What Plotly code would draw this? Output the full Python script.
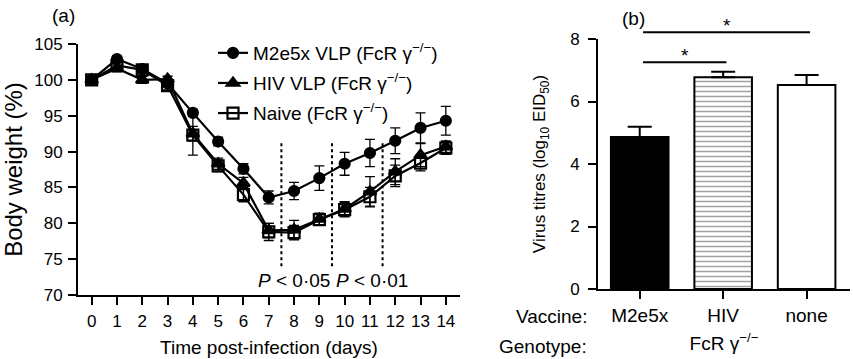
import plotly.graph_objects as go

FONT = "Liberation Sans, Arial, sans-serif"

# ---------------- data: panel (a) ----------------
days = list(range(15))
day_ticks = [str(d) for d in days]
m2e5x = [100, 102.9, 101.5, 99.5, 95.4, 91.4, 87.6, 83.6, 84.5, 86.3, 88.3, 89.8, 91.5, 93.3, 94.3]
m2e5x_err = [0, 0.4, 0.4, 0.4, 0.5, 0.6, 0.7, 0.9, 1.2, 1.7, 1.6, 1.9, 1.8, 2.1, 2.0]
hiv = [100, 101.6, 100.0, 100.1, 92.5, 88.3, 85.6, 79.0, 79.1, 80.6, 82.0, 84.4, 87.2, 89.5, 90.7]
hiv_err = [0, 0.5, 0.5, 0.4, 1.0, 0.8, 0.8, 1.0, 1.3, 0.8, 1.0, 2.1, 1.8, 1.6, 0.8]
naive = [100, 102.0, 101.4, 99.2, 92.3, 88.0, 84.0, 78.8, 78.7, 80.5, 81.9, 83.7, 86.6, 88.4, 90.5]
naive_err = [0, 0.4, 0.5, 0.6, 2.8, 0.8, 1.0, 1.2, 1.0, 0.8, 1.0, 1.3, 1.5, 1.1, 0.9]
series_names = ["M2e5x VLP (FcR γ<sup>−/−</sup>)", "HIV VLP (FcR γ<sup>−/−</sup>)", "Naive (FcR γ<sup>−/−</sup>)"]
bw_ticks = [70, 75, 80, 85, 90, 95, 100, 105]
sig_days = [7.5, 9.5, 11.5]
sig_range = [74.0, 91.4]
p_labels = ["<i>P</i> < 0·05", "<i>P</i> < 0·01"]
p_label_x = [8.0, 11.1]
p_label_y = 72.0

# ---------------- data: panel (b) ----------------
vaccines = ["M2e5x", "HIV", "none"]
titres = [4.86, 6.78, 6.53]
titres_err = [0.33, 0.17, 0.32]
titre_ticks = [0, 2, 4, 6, 8]
comparisons = [(0, 1, 7.26), (0, 2, 8.22)]  # (from, to, level)

fig = go.Figure()

sym = ["circle", "triangle-up", "square-open"]
sizes = [10, 11, 11]
for i, (name, ys, es, s, sz) in enumerate(zip(series_names, [m2e5x, hiv, naive],
                                              [m2e5x_err, hiv_err, naive_err], sym, sizes)):
    fig.add_trace(go.Scatter(
        x=days, y=ys, name=name, mode="lines+markers", legendgroup=f"g{i}",
        line=dict(color="black", width=2.2),
        marker=dict(symbol=s, size=sz, color="black", line=dict(color="black", width=2.2)),
        error_y=dict(type="data", array=es, visible=True, color="black", thickness=1.3, width=5),
        xaxis="x", yaxis="y",
    ))

fig.add_trace(go.Bar(
    x=vaccines, y=titres, width=0.69, showlegend=False,
    marker=dict(
        color=["black", "white", "white"],
        line=dict(color="black", width=2),
        pattern=dict(shape=["", "-", ""], fgcolor="black", bgcolor="white", size=5, solidity=0.3),
    ),
    error_y=dict(type="data", array=titres_err, arrayminus=[0, 0, 0], symmetric=False,
                 visible=True, color="black", thickness=2, width=12),
    xaxis="x2", yaxis="y2",
))

shapes = []
for d in sig_days:
    shapes.append(dict(type="line", xref="x", yref="y", x0=d, x1=d, y0=sig_range[0], y1=sig_range[1],
                       line=dict(color="black", width=2, dash="dot")))
ymax2 = titre_ticks[-1]
for a, b, lvl in comparisons:
    shapes.append(dict(type="line", xref="x2", yref="y2 domain", x0=a + 0.04, x1=b + 0.04,
                       y0=lvl / ymax2, y1=lvl / ymax2, line=dict(color="black", width=2)))

annotations = []
for t, x in zip(p_labels, p_label_x):
    annotations.append(dict(text=t, x=x, y=p_label_y, xref="x", yref="y", showarrow=False,
                            yanchor="middle", font=dict(size=19, color="black")))
for a, b, lvl in comparisons:
    annotations.append(dict(text="*", x=(a + b) / 2 + 0.04, y=lvl / ymax2, xref="x2", yref="y2 domain",
                            yanchor="bottom", showarrow=False, yshift=-6, font=dict(size=19, color="black")))
annotations += [
    dict(text="(a)", x=50 / 853, y=1 - 15 / 359, xref="paper", yref="paper", xanchor="left",
         yanchor="middle", showarrow=False, font=dict(size=19)),
    dict(text="(b)", x=620 / 853, y=1 - 18 / 359, xref="paper", yref="paper", xanchor="left",
         yanchor="middle", showarrow=False, font=dict(size=19)),
    dict(text="Vaccine:", x=589 / 853, y=1 - 316 / 359, xref="paper", yref="paper", xanchor="right",
         yanchor="middle", showarrow=False, font=dict(size=19)),
    dict(text="Genotype:", x=589 / 853, y=1 - 346 / 359, xref="paper", yref="paper", xanchor="right",
         yanchor="middle", showarrow=False, font=dict(size=19)),
]

axis_common = dict(showline=True, linecolor="black", linewidth=2, ticks="outside", ticklen=8,
                   tickwidth=2, tickcolor="black", showgrid=False, zeroline=False, automargin=False)

fig.update_layout(
    width=853, height=359, margin=dict(l=0, r=0, t=0, b=0, autoexpand=False),
    paper_bgcolor="white", plot_bgcolor="white",
    font=dict(family=FONT, color="black", size=17),
    shapes=shapes, annotations=annotations,
    legend=dict(x=213 / 853, y=1 - 34 / 359, xanchor="left", yanchor="top",
                font=dict(size=19), bgcolor="rgba(0,0,0,0)", tracegroupgap=2.4),
    xaxis=dict(domain=[78 / 853, 460 / 853], range=[-0.54, 14.56], tickvals=days, ticktext=day_ticks,
               title=dict(text="Time post-infection (days)", font=dict(size=19), standoff=10),
               ticklabelstandoff=2, anchor="y", **axis_common),
    yaxis=dict(domain=[1 - 295 / 359, 1 - 44 / 359], range=[70, 105], tickvals=bw_ticks,
               title=dict(text="Body weight (%)", font=dict(size=24), standoff=10),
               ticklabelstandoff=2, anchor="x", **axis_common),
    xaxis2=dict(domain=[598 / 853, 850 / 853], range=[-0.5, 2.52], tickfont=dict(size=19),
                title=dict(text="FcR γ<sup>−/−</sup>", font=dict(size=19), standoff=12),
                ticklabelstandoff=0, anchor="y2", **axis_common),
    yaxis2=dict(domain=[1 - 289 / 359, 1 - 39 / 359], range=[0, ymax2], tickvals=titre_ticks,
                title=dict(text="Virus titres (log<sub>10</sub> EID<sub>50</sub>)", font=dict(size=17), standoff=20),
                ticklabelstandoff=5, anchor="x2", **axis_common),
)

fig.write_html("out.html", config={"displayModeBar": False},
               post_script="document.body.style.margin='0';document.body.style.padding='0';")
